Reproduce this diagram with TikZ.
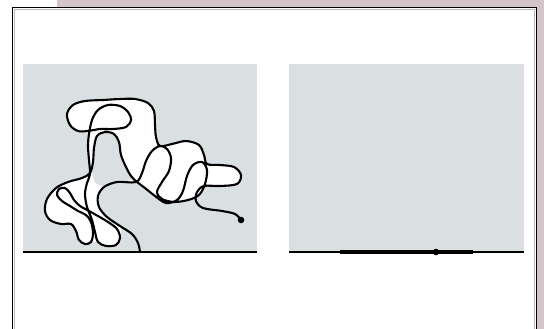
\documentclass[tikz,border=0pt]{standalone}
\usepackage{tikz}
\definecolor{mauve}{RGB}{210,196,201}
\definecolor{panelgray}{RGB}{218,223,225}
\tikzset{
  panel/.style={fill=panelgray},
  groundline/.style={line width=1.3pt, black},
  knot/.style={line width=2.1pt, black, line join=round, line cap=round},
  straight/.style={line width=3.2pt, black},
  endpoint/.style={fill=black}
}

\begin{document}
\begin{tikzpicture}[x=1pt,y=-1pt]
  \useasboundingbox (0,0) rectangle (544,329);
  \clip (0,0) rectangle (544,329);
  \fill[mauve] (57,0) rectangle (544,329);
  \draw[fill=white, line width=1.6pt] (12.5,7.5) rectangle (536.5,340);
  \draw[gray!55, line width=0.8pt] (14.3,9.3) rectangle (534.7,340);

  \fill[panel] (23,64) rectangle (257,252);
  \fill[panel] (289,64) rectangle (524,252);
  \draw[groundline] (23,252) -- (257,252);
  \draw[groundline] (289,252) -- (524,252);

  % folded string
  \fill[white] plot[smooth cycle, tension=0.55] coordinates {
    (67,114) (73,105) (85,101) (103,100) (120,99) (135,99) (148,103)
    (154,111) (155,125) (156,137) (160,146) (172,144) (186,141) (199,145)
    (204,155) (207,164) (220,165) (234,167) (241,175) (237,184) (220,186)
    (204,186) (199,195) (188,200) (175,202) (162,199) (150,191) (137,182)
    (117,182) (104,187) (98,196) (99,207) (107,217) (120,226) (120,238)
    (116,245) (106,246) (98,242) (91,242) (85,244) (79,240) (76,231)
    (71,224) (61,224) (50,220) (45,211) (47,199) (56,188) (68,182)
    (82,178) (89,172) (88,146) (89,134) (78,131) (70,125)};
  \fill[panel] plot[smooth cycle, tension=0.55] coordinates {
    (92,170) (94,148) (97,137) (105,133) (114,135) (119,143) (121,155)
    (126,167) (133,179) (117,182) (104,186) (95,182)};
  \draw[knot] plot[smooth, tension=0.55] coordinates {
    (140,252) (138,243) (132,234) (120,226) (107,217) (99,207) (98,196)
    (104,187) (117,182) (136,182)
    (142,173) (146,161) (152,151) (160,146) (167,149) (171,158) (169,171)
    (162,182) (157,192) (162,199) (174,202) (188,200)
    (199,195) (205,184) (207,170) (202,162) (193,165) (187,176) (183,191)
    (177,200) (166,203) (155,196) (145,188) (137,182)
    (131,176) (126,167) (121,155) (119,142) (114,134) (105,132) (97,136)
    (94,148) (93,162) (90,173)
    (82,178) (68,182) (56,188) (47,199) (45,211) (50,220) (61,224) (71,224)
    (76,231) (79,240) (85,244) (91,242) (93,233) (91,222) (86,215) (78,211)
    (70,206) (62,201) (57,195) (59,189) (65,188) (70,193) (74,200) (80,206)
    (89,211) (98,216) (108,222) (117,229) (120,238) (116,245) (106,246)
    (98,242) (95,232) (92,220) (87,207) (85,194) (87,183) (90,174) (89,160)
    (88,146) (89,134)
    (92,120) (98,110) (108,105) (120,106) (128,112) (131,120) (126,127)
    (113,129) (100,129) (88,131) (78,131) (70,125) (67,114) (73,105) (85,101)
    (103,100) (120,99) (135,99) (148,103) (154,111) (155,125) (156,137)
    (160,146) (172,144) (186,141) (199,145) (204,155) (207,164) (220,165)
    (234,167) (241,175) (237,184) (220,186) (204,186) (197,192) (196,201)
    (203,208) (222,211) (235,214) (241,220)};
  \coordinate (tailend) at (241,220);
  \fill[endpoint] (tailend) circle (3.3pt);

  % straightened string
  \coordinate (segstart) at (340,252);
  \coordinate (segend) at (473,252);
  \coordinate (midmark) at (436,252);
  \draw[straight] (segstart) -- (segend);
  \fill[endpoint] (midmark) circle (3.3pt);
\end{tikzpicture}
\end{document}
